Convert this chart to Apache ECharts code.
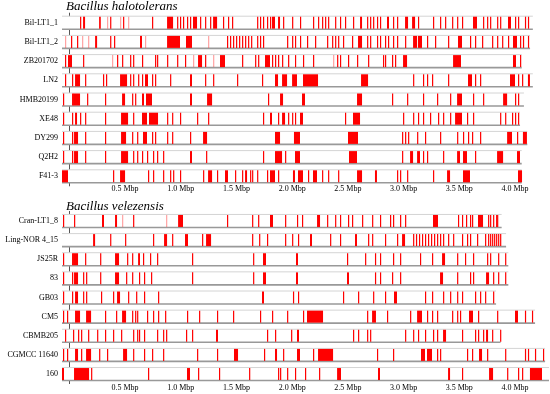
<!DOCTYPE html>
<html><head><meta charset="utf-8">
<script src="https://cdn.jsdelivr.net/npm/echarts@6/dist/echarts.min.js"></script>
<style>html,body{margin:0;padding:0;background:#fff}#c{width:550px;height:394px}</style>
</head><body><div id="c"></div>
<script>
// ---- data (positions in Mbp). number = single line, [start,end] = block, optional 3rd = intensity
const titleTop = 'Bacillus halotolerans';
const titleBottom = 'Bacillus velezensis';
const tickValues = [0.5, 1.0, 1.5, 2.0, 2.5, 3.0, 3.5, 4.0];
const axisStart = -0.066;

const namesTop = ['Bil-LT1_1','Bil-LT1_2','ZB201702','LN2','HMB20199','XE48','DY299','Q2H2','F41-3'];
const lengthsTop = [4.16, 4.135, 4.06, 4.16, 4.08, 4.045, 4.11, 4.06, 4.06];
const namesBottom = ['Cran-LT1_8','Ling-NOR 4_15','JS25R','83','GB03','CM5','CBMB205','CGMCC 11640','160'];
const lengthsBottom = [3.88, 3.92, 3.94, 3.94, 3.83, 4.18, 3.87, 4.27, 4.305];

const bilLT1_1 = [[0.096,0.105],[0.123,0.141],[0.267,0.282],[0.338,0.338,0.5],0.366,[0.455,0.455,0.5],0.482,[0.527,0.527,0.5],0.742,
  [0.877,0.931],0.967,0.993,1.020,1.056,1.083,[1.110,1.146],1.173,1.218,1.263,[1.290,1.326],1.379,1.424,1.460,1.685,1.711,1.738,1.774,1.801,
  [1.819,1.846],[1.873,1.891],1.918,1.999,2.070,2.187,2.232,2.268,2.295,2.322,2.385,2.429,2.474,2.546,[2.609,2.627],2.672,2.699,2.726,2.761,2.788,
  [2.851,2.869],2.905,2.941,[3.013,3.040],[3.076,3.103],3.129,3.264,3.327,3.372,3.435,3.480,3.524,[3.623,3.659],3.713,3.749,3.776,3.839,3.866,
  [3.937,3.964],4.000,4.027,4.089,4.116];
const bilLT1_2 = [[-0.039,-0.039,0.5],0.015,0.069,[0.114,0.114,0.5],[0.168,0.168,0.5],[0.231,0.249],[0.366,0.375],[0.401,0.410],[0.634,0.652],[0.679,0.679,0.5],
  [0.877,0.993],[1.047,1.101],[1.245,1.245,0.5],1.415,1.442,1.469,1.496,1.523,1.550,1.577,1.604,1.631,1.685,1.711,1.738,
  1.954,1.999,2.025,2.070,2.133,2.205,2.313,2.358,2.385,2.412,2.456,2.537,[2.591,2.627],2.672,2.699,2.761,2.788,2.833,2.860,2.905,2.941,3.013,
  [3.085,3.121],[3.129,3.165],3.210,3.282,3.399,[3.488,3.524],3.596,3.641,3.704,3.794,3.839,3.884,3.937,[3.982,4.018],4.045,4.071,4.116];
const zb201702 = [-0.039,[-0.012,0.024],0.123,[0.383,0.383,0.5],0.428,0.473,0.545,0.572,0.652,0.769,0.787,0.877,0.967,1.038,[1.110,1.110,0.5],[1.155,1.191],1.218,
  [1.290,1.290,0.5],[1.352,1.397],1.550,1.667,1.694,[1.756,1.801],1.819,1.846,1.873,1.909,1.963,2.025,2.097,2.187,[2.367,2.367,0.5],2.403,2.429,2.501,2.582,2.681,
  2.815,2.833,2.896,2.923,[2.995,3.031],[3.444,3.515],[3.982,4.009],4.045];
const ln2 = [-0.039,0.024,[0.051,0.096],0.141,0.302,0.329,[0.455,0.518],0.545,0.572,0.617,0.652,[0.679,0.706],0.742,0.769,0.904,[1.083,1.101],1.218,1.290,1.505,1.729,
  [1.846,1.873],[1.909,1.954],[1.999,2.043],[2.097,2.232],[2.618,2.681],3.085,3.174,3.210,3.255,3.399,[3.578,3.614],3.641,3.686,[3.955,4.000],4.027,4.063,[4.116,4.134]];
const hmb20199 = [-0.057,0.024,[0.033,0.096],0.159,0.320,[0.473,0.500],0.563,0.590,[0.652,0.670],[0.688,0.742],[1.083,1.101],[1.236,1.281],1.783,[1.891,1.918],
  [2.088,2.115],[2.582,2.627],2.896,3.031,3.174,3.300,3.417,[3.480,3.524],3.623,3.713,[3.893,3.929],4.000,4.027];
const xe48 = [-0.057,0.024,[0.051,0.069],0.096,0.141,0.320,[0.464,0.527],0.572,[0.652,0.697],[0.715,0.796],0.877,0.922,0.993,1.146,1.245,1.738,1.873,
  [1.801,1.819],[1.909,1.936],1.963,1.999,2.025,[2.070,2.097],2.474,[2.546,2.609],2.995,3.085,3.129,3.174,3.237,3.309,3.354,3.417,[3.462,3.524],3.569,3.623,
  3.866,3.911,3.973,4.000,4.027];
const dy299 = [-0.057,0.024,[0.042,0.078],0.141,0.320,[0.464,0.509],0.563,0.608,[0.661,0.697],0.742,0.769,0.877,0.922,1.083,[1.200,1.236],[1.846,1.891],
  [2.016,2.070],[2.501,2.591],2.986,3.013,3.040,3.121,3.192,3.327,3.480,3.533,3.578,3.614,3.686,[3.929,3.973],4.018,[4.071,4.107]];
const q2h2 = [-0.057,0.024,[0.042,0.078],0.141,0.320,[0.464,0.527],0.572,0.608,0.652,0.697,0.751,0.787,0.841,[1.083,1.101],1.227,1.738,[1.846,1.909],1.936,
  [2.025,2.070],[2.510,2.582],2.986,[3.058,3.085],[3.121,3.147],3.174,3.210,3.354,[3.480,3.506],[3.533,3.569],3.641,[3.839,3.893],[4.018,4.045]];
const f41_3 = [[-0.066,-0.012],0.392,[0.455,0.500],0.706,0.751,0.841,0.904,0.931,0.993,1.200,[1.245,1.281],1.325,[1.397,1.424],1.487,1.550,[1.577,1.595],1.622,1.640,
  1.685,1.774,[1.801,1.846],1.873,[2.007,2.025],[2.052,2.097],2.142,[2.187,2.223],[2.268,2.277],2.322,2.412,[2.582,2.627],[2.743,2.761],2.941,2.968,3.031,3.264,
  [3.390,3.417],[3.533,3.596],[4.027,4.063]];

const cranLT1_8 = [[-0.057,-0.048],0.042,[0.293,0.311],[0.410,0.428],[0.473,0.473,0.5],0.572,[0.868,0.868,0.5],[0.976,1.020],1.415,1.640,1.694,[1.801,1.828],
  1.936,2.043,2.088,[2.223,2.250],2.313,2.385,2.429,2.501,2.537,2.627,2.717,2.788,2.878,2.905,2.968,3.013,[3.264,3.309],3.488,3.524,3.560,3.596,3.614,
  [3.668,3.713],3.758,3.776,3.803,3.830,3.839];
const lingNOR4_15 = [[0.213,0.231],0.366,0.500,0.751,[0.850,0.877],0.922,[1.038,1.065],1.191,[1.227,1.272],1.640,1.703,[1.774,1.783],1.936,1.999,2.052,
  [2.160,2.178],2.340,2.429,[2.564,2.582],2.681,2.717,2.833,2.941,[2.986,3.013],3.085,3.111,3.138,3.165,3.192,3.219,3.246,3.273,3.300,3.327,3.354,3.399,
  3.444,3.524,3.569,3.596,3.659,3.731,3.758,3.776,3.794,3.812,3.830,3.848,3.866];
const js25r = [-0.057,0.024,[0.033,0.078],0.141,0.276,[0.410,0.446],0.518,0.563,[0.617,0.634],0.661,0.724,0.787,1.101,1.649,[1.738,1.765],[2.034,2.052],
  [2.492,2.501],2.654,2.743,2.788,2.905,2.968,3.147,3.255,[3.345,3.372],3.480,3.551,3.623,3.749,3.776,3.848,3.911];
const s83 = [-0.057,0.024,[0.042,0.078],0.123,0.150,0.276,[0.410,0.446],0.509,0.563,0.625,0.670,0.733,1.101,1.649,[1.738,1.765],[2.034,2.052],[2.492,2.510],
  2.743,2.788,2.896,2.968,[3.327,3.354],3.480,3.596,3.623,[3.740,3.767],3.803,3.848,3.911];
const gb03 = [-0.057,0.024,[0.051,0.078],0.123,0.150,0.284,0.392,[0.428,0.455],0.527,0.599,0.670,0.796,[1.729,1.747],2.007,2.052,2.456,2.591,2.726,2.833,
  [2.914,2.941],3.192,3.255,3.354,3.417,3.480,3.524,3.641,3.686,3.731,3.803];
const cm5 = [-0.057,-0.021,[0.051,0.096],[0.150,0.195],0.320,0.419,[0.473,0.509],0.563,0.590,0.608,0.697,0.751,0.796,0.859,1.056,1.164,1.325,1.469,1.711,
  1.819,1.954,2.097,[2.133,2.277],2.672,[2.717,2.752],2.851,3.058,[3.121,3.165],3.210,3.255,3.300,3.435,3.480,3.506,[3.587,3.623],3.668,3.839,[4.000,4.027],
  4.089,4.152];
const cbmb205 = [-0.039,0.033,0.078,0.105,0.168,0.249,0.320,0.392,0.464,0.572,0.608,0.625,0.670,0.787,0.841,0.868,1.047,1.101,[1.316,1.334],1.774,1.846,
  1.990,[2.043,2.061],2.546,2.591,2.672,2.699,3.013,3.085,3.129,3.192,3.264,3.300,[3.354,3.381],3.524,3.641,3.668,3.713,[3.740,3.758],3.794,3.866];
const cgmcc11640 = [-0.057,-0.021,[0.051,0.078],0.105,[0.150,0.195],0.267,0.338,[0.482,0.518],0.572,0.670,0.742,0.841,1.146,1.325,[1.478,1.514],1.747,
  [1.846,1.864],1.918,[2.043,2.070],2.187,[2.232,2.367],2.761,2.905,[3.156,3.192],[3.210,3.255],3.300,3.327,3.569,3.614,[3.677,3.704],3.749,3.911,4.089,
  4.116,4.179,4.251];
const s160 = [[-0.066,-0.048],[0.042,0.177],0.195,0.706,[1.056,1.083],1.155,1.343,1.613,1.873,1.891,1.954,2.025,2.115,2.241,[2.403,2.438],[2.770,2.788],
  [3.399,3.417],3.524,[3.767,3.803],3.929,4.027,4.063,[4.134,4.242]];

const marksTop = [bilLT1_1, bilLT1_2, zb201702, ln2, hmb20199, xe48, dy299, q2h2, f41_3];
const marksBottom = [cranLT1_8, lingNOR4_15, js25r, s83, gb03, cm5, cbmb205, cgmcc11640, s160];

// ---- build
const SERIF = '"Liberation Serif","DejaVu Serif",serif';
const TRACK_H = 13;

function flatten(list) {
  const out = [];
  list.forEach((marks, i) => marks.forEach(m => {
    if (typeof m === 'number') out.push([m, m, i, 1]);
    else out.push([m[0], m[1], i, m.length > 2 ? m[2] : 1]);
  }));
  return out;
}
function trackData(lengths) { return lengths.map((l, i) => [axisStart, l, i]); }

function renderTrack(params, api) {
  const p0 = api.coord([api.value(0), api.value(2)]);
  const p1 = api.coord([api.value(1), api.value(2)]);
  const top = p0[1] - TRACK_H / 2, bot = p0[1] + TRACK_H / 2;
  return { type: 'group', children: [
    { type: 'rect', shape: { x: p0[0], y: top, width: p1[0] - p0[0], height: TRACK_H }, style: { fill: '#fff' } },
    { type: 'line', shape: { x1: p0[0], y1: top, x2: p1[0], y2: top }, style: { stroke: '#d4d4d4', lineWidth: 1 } },
    { type: 'line', shape: { x1: p0[0], y1: bot, x2: p1[0], y2: bot }, style: { stroke: '#999999', lineWidth: 1.6 } }
  ]};
}
function renderMark(params, api) {
  const p0 = api.coord([api.value(0), api.value(2)]);
  const p1 = api.coord([api.value(1), api.value(2)]);
  const a = api.value(3);
  const single = p1[0] - p0[0] < 1.2;
  const w = single ? 1.2 : p1[0] - p0[0];
  return { type: 'rect', shape: { x: p0[0], y: p0[1] - TRACK_H / 2 + 0.5, width: w, height: TRACK_H - 1 },
    style: { fill: a < 1 ? 'rgba(255,70,70,' + a + ')' : '#ff0000' } };
}

function xAxisFor(gi, margin) {
  return {
    type: 'value', gridIndex: gi, min: axisStart, max: 4.314,
    axisLine: { show: false }, axisTick: { show: false }, splitLine: { show: false },
    axisLabel: { customValues: tickValues, margin: margin, fontFamily: SERIF, fontSize: 8, color: '#000',
      formatter: v => v.toFixed(1) + ' Mbp' }
  };
}
function yAxisFor(gi, names) {
  return {
    type: 'category', gridIndex: gi, data: names, inverse: true,
    axisLine: { show: true, lineStyle: { color: '#555', width: 1 } }, axisTick: { show: false },
    axisLabel: { fontFamily: SERIF, fontSize: 8, color: '#000', margin: 4 }
  };
}

const chart = echarts.init(document.getElementById('c'), null, { renderer: 'canvas' });
chart.setOption({
  animation: false,
  backgroundColor: '#fff',
  title: [
    { text: titleTop, left: 66, top: 0, textStyle: { fontFamily: SERIF, fontStyle: 'italic', fontWeight: 'normal', fontSize: 13, color: '#000' }, padding: 0 },
    { text: titleBottom, left: 66, top: 200, textStyle: { fontFamily: SERIF, fontStyle: 'italic', fontWeight: 'normal', fontSize: 13, color: '#000' }, padding: 0 }
  ],
  grid: [
    { left: 62, right: 0, top: 13.1, height: 172.8, outerBoundsMode: 'none' },
    { left: 62, right: 0, top: 211.4, height: 172.2, outerBoundsMode: 'none' }
  ],
  xAxis: [xAxisFor(0, -1), xAxisFor(1, 0)],
  yAxis: [yAxisFor(0, namesTop), yAxisFor(1, namesBottom)],
  series: [
    { type: 'custom', xAxisIndex: 0, yAxisIndex: 0, renderItem: renderTrack, data: trackData(lengthsTop), encode: { x: [0, 1], y: 2 }, z: 1 },
    { type: 'custom', xAxisIndex: 0, yAxisIndex: 0, renderItem: renderMark, data: flatten(marksTop), encode: { x: [0, 1], y: 2 }, z: 2 },
    { type: 'custom', xAxisIndex: 1, yAxisIndex: 1, renderItem: renderTrack, data: trackData(lengthsBottom), encode: { x: [0, 1], y: 2 }, z: 1 },
    { type: 'custom', xAxisIndex: 1, yAxisIndex: 1, renderItem: renderMark, data: flatten(marksBottom), encode: { x: [0, 1], y: 2 }, z: 2 }
  ]
});
</script></body></html>
